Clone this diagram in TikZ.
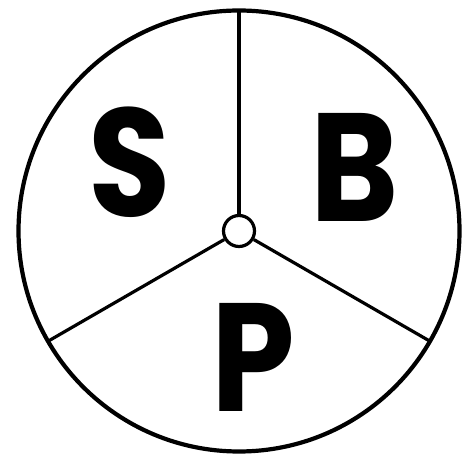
\documentclass[tikz,border=0pt]{standalone}
\usepackage{fontspec}
\setsansfont{Poppins}
\usetikzlibrary{positioning,calc}
\newcommand{\narrowletter}[1]{\scalebox{0.87}[1]{#1}}
\tikzset{
  rim/.style={line width=2.1pt,draw=black},
  spoke/.style={line width=1.6pt,draw=black},
  hub/.style={circle,line width=1.6pt,draw=black,fill=white,
    minimum size=15.5pt,inner sep=0pt},
  letter/.style={font=\sffamily\bfseries\fontsize{77}{77}\selectfont,
    inner sep=0pt,anchor=base},
}
\begin{document}
\begin{tikzpicture}[x=0.5pt,y=-0.5pt]
  \useasboundingbox (0,0) rectangle (476,458);
  \coordinate (c) at (239,231);
  \draw[rim] (c) circle[radius=220.5];
  \coordinate (up) at ($(c)+(0,-220.5)$);
  \coordinate (lowl) at ($(c)+(-190.9,110.2)$);
  \coordinate (lowr) at ($(c)+(190.9,110.2)$);
  \node (h) [hub] at (c) {};
  \draw[spoke] (h.90) -- (up);
  \draw[spoke] (h.210) -- (lowl);
  \draw[spoke] (h.330) -- (lowr);
  \node (s) [letter] at (130,217) {\narrowletter{S}};
  \node (b) [letter] at (355,222) {\narrowletter{B}};
  \node (p) [letter] at (253,412) {\narrowletter{P}};
\end{tikzpicture}
\end{document}
